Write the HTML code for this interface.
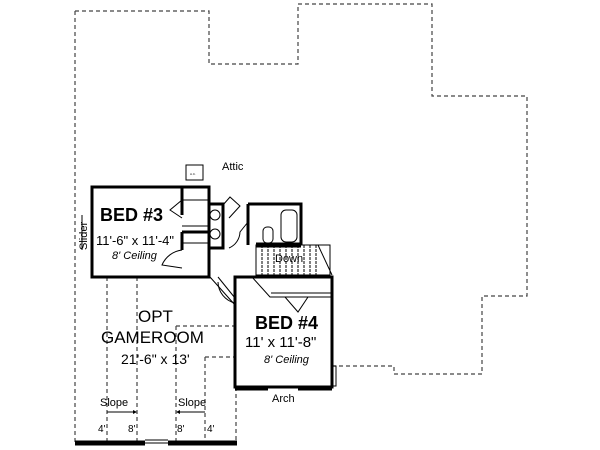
<!DOCTYPE html>
<html><head><meta charset="utf-8"><style>
html,body{margin:0;padding:0;background:#fff;}
svg{display:block;}
text{font-family:"Liberation Sans",sans-serif;fill:#000;}
</style></head><body>
<svg width="600" height="450" viewBox="0 0 600 450" xmlns="http://www.w3.org/2000/svg">
<g fill="none" stroke="#444" stroke-width="1.2" stroke-dasharray="4,3">
<polyline points="75,11 209,11 209,64 298,64 298,4 432,4 432,96 527,96 527,296 482,296 482,374 394,374 394,366 333,366"/>
<line x1="75" y1="11" x2="75" y2="443"/>
<line x1="107" y1="277" x2="107" y2="443"/>
<line x1="137" y1="277" x2="137" y2="443"/>
<line x1="176" y1="326" x2="176" y2="443"/>
<line x1="205" y1="357" x2="205" y2="443"/>
<line x1="236" y1="387" x2="236" y2="443"/>
<line x1="176" y1="326" x2="234" y2="326"/>
<line x1="205" y1="357" x2="234" y2="357"/>
</g>
<g fill="none" stroke="#000" stroke-width="3">
<rect x="92" y="187" width="117" height="90"/>
<rect x="235" y="277" width="97" height="110"/>
<polyline points="209,204 223,204 223,248 209,248"/>
<polyline points="248,204 301,204 301,245"/>
<line x1="248" y1="204" x2="248" y2="245"/>
<line x1="182" y1="187" x2="182" y2="215"/>
<line x1="182" y1="232" x2="182" y2="250"/>
<line x1="182" y1="232" x2="209" y2="232"/>
</g>
<g fill="none" stroke="#000" stroke-width="1">
<line x1="182" y1="200" x2="209" y2="200"/>
<line x1="182" y1="226" x2="209" y2="226"/>
<line x1="182" y1="243" x2="209" y2="243"/>
<rect x="186" y="165" width="17" height="15" fill="#fff"/>
<rect x="281" y="210" width="16" height="32" rx="5"/>
<rect x="263" y="227" width="10" height="16" rx="4"/>
<circle cx="215" cy="215" r="5"/><circle cx="215" cy="234" r="5"/>
<path d="M182 200 L170 210 L182 218"/>
<path d="M223 205 L230 197 L240 206 L229 218"/>
<path d="M248 222 L240 232 A18 18 0 0 1 229 248"/>
<path d="M182 250 A25 25 0 0 0 162 265 L182 268"/>
<rect x="256" y="245" width="74" height="30"/>
<line x1="318" y1="245" x2="332" y2="275"/>
<path d="M262 245v30M268 245v30M274 245v30M280 245v30M286 245v30M292 245v30M298 245v30M304 245v30M310 245v30M316 245v30" stroke-dasharray="3,1"/>
<line x1="271" y1="293" x2="332" y2="293"/>
<line x1="271" y1="297" x2="332" y2="297"/>
<path d="M252 277 L270 297 L285 297 L298 312 L308 297 L320 297"/>
<path d="M210 277 L235 305 M218 277 L235 298"/>
<path d="M235 303 A22 22 0 0 1 218 282"/>
<line x1="82" y1="215" x2="82" y2="250"/>
<path d="M332 366 h4 v20 h-4" />
</g>
<g stroke="#000" stroke-width="5">
<line x1="75" y1="443" x2="145" y2="443"/>
<line x1="168" y1="443" x2="237" y2="443"/>
<line x1="256" y1="245" x2="301" y2="245"/>
<line x1="235" y1="388" x2="268" y2="388"/>
<line x1="298" y1="388" x2="332" y2="388"/>
</g>
<g stroke="#000" stroke-width="1"><line x1="145" y1="443" x2="168" y2="443"/><line x1="145" y1="440" x2="168" y2="440"/>
<line x1="268" y1="386" x2="298" y2="386"/>
<line x1="107" y1="412" x2="133" y2="412"/><line x1="180" y1="412" x2="205" y2="412"/></g>
<path d="M133 410 L137 412 L133 414Z M180 410 L176 412 L180 414Z" fill="#000"/>
<text x="222" y="170" font-size="11">Attic</text>
<text x="190" y="175" font-size="3">A.C.</text>
<text x="0" y="0" font-size="11" transform="translate(87,250) rotate(-90)">Slider</text>
<text x="100" y="221" font-size="18" font-weight="bold">BED #3</text>
<text x="96" y="245" font-size="13">11'-6" x 11'-4"</text>
<text x="112" y="259" font-size="11" font-style="italic">8' Ceiling</text>
<text x="275" y="262" font-size="11">Down</text>
<text x="138" y="322" font-size="17">OPT</text>
<text x="101" y="343" font-size="17">GAMEROOM</text>
<text x="121" y="364" font-size="14">21'-6" x 13'</text>
<text x="255" y="329" font-size="18" font-weight="bold">BED #4</text>
<text x="245" y="347" font-size="15">11' x 11'-8"</text>
<text x="264" y="363" font-size="11" font-style="italic">8' Ceiling</text>
<text x="272" y="402" font-size="11">Arch</text>
<text x="100" y="406" font-size="11">Slope</text>
<text x="178" y="406" font-size="11">Slope</text>
<text x="98" y="432" font-size="10">4'</text>
<text x="128" y="432" font-size="10">8'</text>
<text x="177" y="432" font-size="10">8'</text>
<text x="207" y="432" font-size="10">4'</text>
</svg>
</body></html>
